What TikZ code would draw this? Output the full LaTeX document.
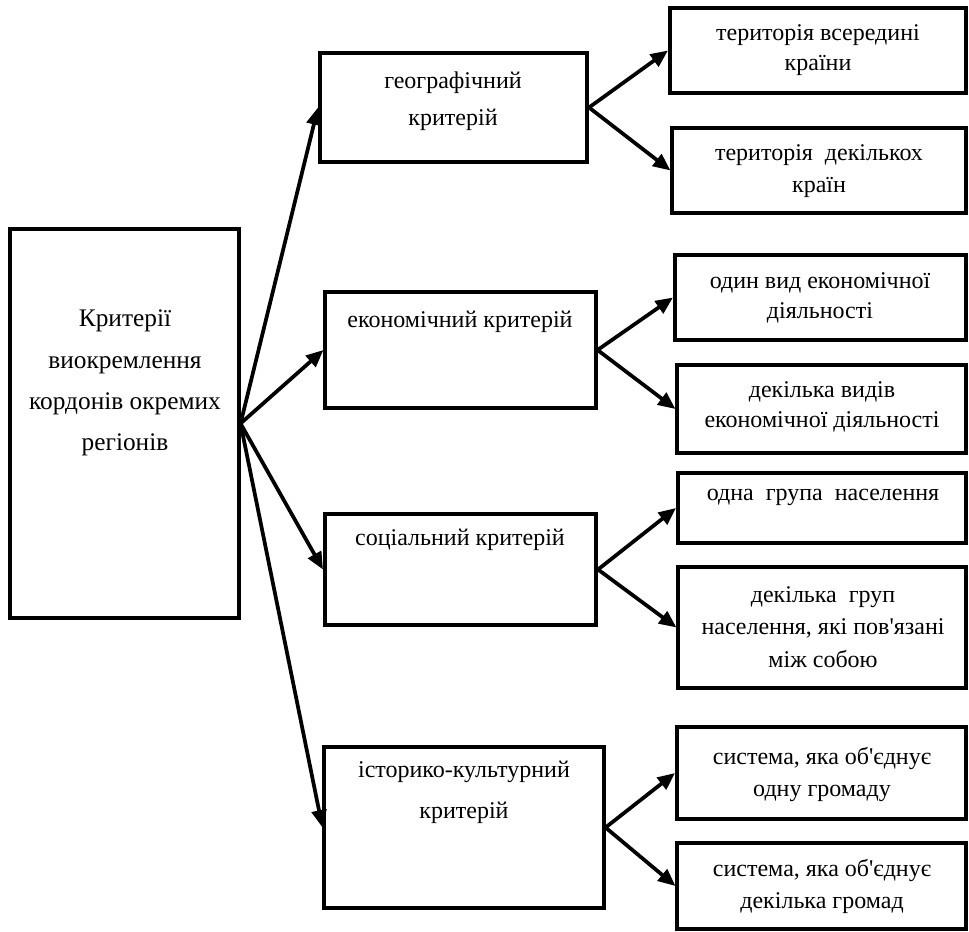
\documentclass[tikz,border=0pt]{standalone}
\usepackage{fontspec}
\newfontfamily\uaf{Liberation Serif}
\usetikzlibrary{arrows.meta,fit}
\tikzset{
  bx/.style={draw, line width=2.3pt, inner sep=0pt},
  bxk/.style={draw, line width=3pt, inner sep=0pt},
  tx/.style={align=center, inner sep=0pt, font=\uaf\fontsize{18}{#1}\selectfont},
  tx/.default=24,
  arr/.style={line width=2.8pt, -{Triangle[length=13pt,width=11pt]}},
}
\begin{document}
\begin{tikzpicture}[x=0.75pt,y=-0.75pt]
\useasboundingbox (0,0) rectangle (969,931);
% main box
\node[bx, fit={(10,229) (239,618)}] (main) {};
\node[tx, font=\uaf\fontsize{19}{31}\selectfont] (maint) at (125,383) {Критерії\\виокремлення\\кордонів окремих\\регіонів};
% criteria boxes
\node[bxk, fit={(320,53) (587,162)}] (geo) {};
\node[tx=28] (geot) at (453,101) {географічний\\критерій};
\node[bx, fit={(325,292) (596,408)}] (eco) {};
\node[tx] (ecot) at (460,322) {економічний критерій};
\node[bxk, fit={(325,514) (596,625)}] (soc) {};
\node[tx] (soct) at (460,540) {соціальний критерій};
\node[bx, fit={(324,747) (604,908)}] (his) {};
\node[tx=31] (hist) at (464,792) {історико-культурний\\критерій};
% right boxes
\node[bxk, fit={(670,8) (966,93)}] (r1) {};
\node[tx=22.5] (r1t) at (818,50) {територія всередині\\країни};
\node[bx, fit={(672,128) (966,213)}] (r2) {};
\node[tx] (r2t) at (819,171) {територія~ декількох\\країн};
\node[bxk, fit={(675,255) (966,340)}] (r3) {};
\node[tx=22.5] (r3t) at (820,298) {один вид економічної\\діяльності};
\node[bx, fit={(677,365) (966,453)}] (r4) {};
\node[tx=22.5] (r4t) at (822,407) {декілька видів\\економічної діяльності};
\node[bxk, fit={(678,473) (966,543)}] (r5) {};
\node[tx] (r5t) at (823,497) {одна~ група~ населення};
\node[bx, fit={(678,567) (966,688)}] (r6) {};
\node[tx=24.5] (r6t) at (823,627) {декілька~ груп\\населення, які пов'язані\\між собою};
\node[bxk, fit={(677,727) (966,819)}] (r7) {};
\node[tx] (r7t) at (822,774) {система, яка об'єднує\\одну громаду};
\node[bx, fit={(677,843) (966,929)}] (r8) {};
\node[tx] (r8t) at (822,886) {система, яка об'єднує\\декілька громад};
% connectors
\draw[arr] (main.east) -- (geo.west);
\draw[arr] (main.east) -- (eco.west);
\draw[arr] (main.east) -- (soc.west);
\draw[arr] (main.east) -- (his.west);
\draw[arr] (geo.east) -- (r1.west);
\draw[arr] (geo.east) -- (r2.west);
\draw[arr] (eco.east) -- (r3.west);
\draw[arr] (eco.east) -- (r4.west);
\draw[arr] (soc.east) -- (r5.west);
\draw[arr] (soc.east) -- (r6.west);
\draw[arr] (his.east) -- (r7.west);
\draw[arr] (his.east) -- (r8.west);
\end{tikzpicture}
\end{document}
